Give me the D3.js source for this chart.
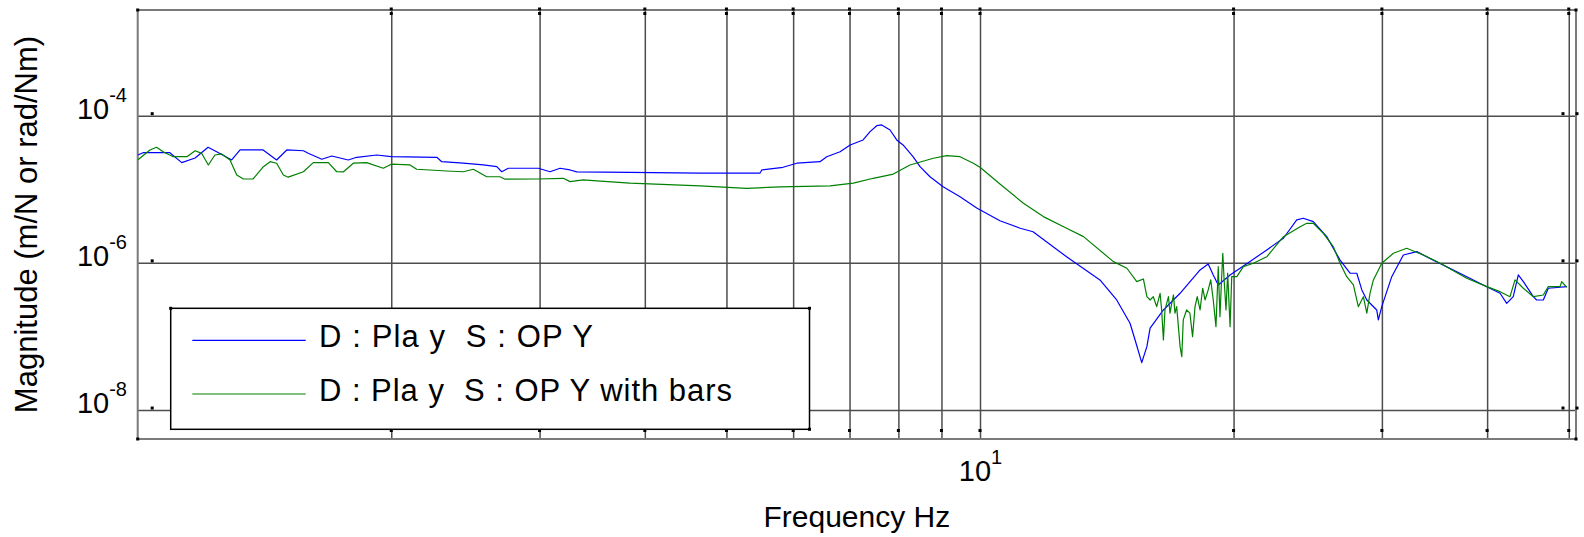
<!DOCTYPE html>
<html>
<head>
<meta charset="utf-8">
<script src="https://cdn.jsdelivr.net/npm/d3@7"></script>
<style>
  html, body { margin: 0; padding: 0; background: #fff; }
  svg { display: block; font-family: "Liberation Sans", Arial, Helvetica, sans-serif; }
  text { white-space: pre; }
</style>
</head>
<body>
<svg id="chart" width="1584" height="537"></svg>
<script>
// Frequency response magnitude of the plate, measured without and with bars.

// Series 1: plate alone (Hz, m/N)
const freqBlue = [1.0, 1.015, 1.092, 1.128, 1.170, 1.212, 1.241, 1.293, 1.323, 1.409, 1.462, 1.503,
  1.573, 1.594, 1.654, 1.700, 1.778, 1.820, 1.922, 2.0, 2.265, 2.296, 2.435, 2.572, 2.669, 2.705,
  2.754, 2.990, 3.087, 3.172, 3.261, 3.321, 3.841, 4.652, 5.481, 5.507, 5.837, 6.060, 6.457, 6.577,
  6.822, 7.011, 7.264, 7.404, 7.541, 7.644, 7.820, 7.964, 8.103, 8.327, 8.488, 8.722, 9.040, 9.469,
  9.91, 10.56, 11.16, 11.56, 12.67, 13.88, 14.53, 15.07, 15.28, 15.56, 15.78, 15.92, 16.51, 17.28,
  18.25, 18.66, 18.92, 19.18, 19.81, 20.92, 21.90, 22.92, 23.77, 24.20, 24.87, 25.80, 26.76, 27.50,
  28.01, 28.40, 28.79, 29.58, 29.71, 29.99, 30.82, 31.81, 33.00, 34.53, 36.47, 39.58, 41.44, 42.20,
  42.96, 43.56, 44.16, 45.38, 45.80, 46.64, 47.28, 49.73];
const magBlue = [2.92e-5, 3.14e-5, 3.14e-5, 2.30e-5, 2.66e-5, 3.72e-5, 3.24e-5, 2.50e-5, 3.42e-5, 3.42e-5, 2.50e-5, 3.42e-5,
  3.34e-5, 3.08e-5, 2.56e-5, 2.83e-5, 2.50e-5, 2.72e-5, 2.92e-5, 2.77e-5, 2.72e-5, 2.37e-5, 2.26e-5, 2.14e-5, 2.03e-5, 1.73e-5,
  1.93e-5, 1.93e-5, 1.73e-5, 1.93e-5, 1.83e-5, 1.72e-5, 1.70e-5, 1.66e-5, 1.66e-5, 1.83e-5, 1.99e-5, 2.26e-5, 2.37e-5, 2.77e-5,
  3.24e-5, 4.00e-5, 4.68e-5, 6.07e-5, 7.31e-5, 7.48e-5, 6.39e-5, 4.68e-5, 4.00e-5, 2.77e-5, 2.03e-5, 1.48e-5, 1.08e-5, 7.93e-6,
  5.57e-6, 3.74e-6, 2.95e-6, 2.65e-6, 1.21e-6, 5.86e-7, 3.13e-7, 1.51e-7, 8.96e-8, 4.41e-8, 7.27e-8, 1.30e-7, 2.29e-7, 3.86e-7,
  8.01e-7, 9.66e-7, 6.85e-7, 5.01e-7, 6.85e-7, 1.04e-6, 1.50e-6, 2.16e-6, 3.83e-6, 4.04e-6, 3.63e-6, 2.27e-6, 1.09e-6, 7.23e-7,
  7.23e-7, 4.29e-7, 3.13e-7, 2.29e-7, 1.68e-7, 2.54e-7, 6.49e-7, 1.28e-6, 1.42e-6, 1.09e-6, 8.01e-7, 5.01e-7, 3.86e-7, 2.82e-7,
  3.47e-7, 6.85e-7, 5.55e-7, 3.47e-7, 3.13e-7, 3.13e-7, 4.52e-7, 4.75e-7];

// Series 2: plate with bars (Hz, m/N)
const freqGreen = [1.0, 1.034, 1.053, 1.072, 1.102, 1.144, 1.170, 1.191, 1.213, 1.235, 1.258, 1.287,
  1.311, 1.335, 1.371, 1.410, 1.436, 1.462, 1.489, 1.509, 1.573, 1.616, 1.684, 1.723, 1.754, 1.803,
  1.870, 1.957, 2.0, 2.105, 2.144, 2.327, 2.435, 2.503, 2.549, 2.596, 2.692, 2.730, 2.977, 3.201,
  3.261, 3.381, 3.507, 3.841, 4.652, 5.285, 5.789, 6.637, 7.073, 7.469, 7.890, 8.258, 8.802, 9.131,
  9.469, 9.818, 10.0, 10.56, 11.26, 11.89, 12.67, 13.27, 14.40, 14.94, 15.35, 15.63, 15.78, 15.92,
  16.06, 16.21, 16.36, 16.43, 16.51, 16.58, 16.74, 16.81, 16.89, 16.97, 17.04, 17.12, 17.28, 17.36,
  17.43, 17.59, 17.75, 17.88, 18.00, 18.11, 18.25, 18.38, 18.50, 18.66, 18.79, 18.92, 19.06, 19.18,
  19.27, 19.36, 19.42, 19.49, 19.59, 19.68, 19.81, 19.90, 20.18, 20.54, 21.11, 21.90, 22.92, 23.99,
  24.43, 24.87, 25.56, 26.27, 26.76, 27.25, 27.75, 28.13, 28.52, 28.79, 29.04, 29.31, 29.99, 30.96,
  32.10, 33.60, 35.17, 37.83, 39.96, 41.44, 42.58, 43.17, 44.16, 45.38, 46.64, 47.28, 48.82, 49.04,
  49.73];
const magGreen = [2.50e-5, 3.42e-5, 3.72e-5, 3.24e-5, 2.77e-5, 2.77e-5, 3.34e-5, 3.08e-5, 2.14e-5, 2.92e-5, 3.02e-5, 2.50e-5,
  1.56e-5, 1.38e-5, 1.38e-5, 2.03e-5, 2.37e-5, 2.26e-5, 1.56e-5, 1.46e-5, 1.73e-5, 2.30e-5, 2.30e-5, 1.73e-5, 1.72e-5, 2.26e-5,
  2.30e-5, 1.93e-5, 2.19e-5, 2.14e-5, 1.87e-5, 1.77e-5, 1.73e-5, 1.87e-5, 1.66e-5, 1.48e-5, 1.48e-5, 1.37e-5, 1.38e-5, 1.41e-5,
  1.27e-5, 1.34e-5, 1.30e-5, 1.21e-5, 1.11e-5, 1.03e-5, 1.08e-5, 1.11e-5, 1.21e-5, 1.41e-5, 1.61e-5, 2.14e-5, 2.64e-5, 2.86e-5,
  2.77e-5, 2.26e-5, 1.99e-5, 1.18e-5, 6.46e-6, 4.25e-6, 2.95e-6, 2.27e-6, 1.04e-6, 8.45e-7, 5.55e-7, 6.04e-7, 3.47e-7, 3.13e-7,
  3.47e-7, 2.54e-7, 3.86e-7, 2.29e-7, 8.96e-8, 2.29e-7, 3.47e-7, 2.07e-7, 2.82e-7, 3.66e-7, 2.07e-7, 2.54e-7, 7.27e-8, 5.31e-8,
  1.68e-7, 2.29e-7, 2.07e-7, 9.94e-8, 2.54e-7, 3.47e-7, 2.29e-7, 4.52e-7, 3.13e-7, 4.29e-7, 5.86e-7, 3.13e-7, 1.36e-7, 8.88e-7,
  1.86e-7, 6.49e-7, 1.35e-6, 5.86e-7, 2.29e-7, 7.23e-7, 1.36e-7, 6.49e-7, 6.49e-7, 8.88e-7, 9.88e-7, 1.21e-6, 2.27e-6, 3.10e-6,
  3.45e-6, 3.45e-6, 2.52e-6, 1.66e-6, 9.88e-7, 6.49e-7, 5.01e-7, 2.54e-7, 3.47e-7, 2.07e-7, 3.86e-7, 5.86e-7, 9.88e-7, 1.35e-6,
  1.58e-6, 1.28e-6, 9.88e-7, 6.18e-7, 4.75e-7, 4.06e-7, 3.47e-7, 5.86e-7, 4.52e-7, 3.47e-7, 3.66e-7, 4.75e-7, 4.75e-7, 5.55e-7,
  4.66e-7];

const seriesNames = ["D : Pla y  S : OP Y", "D : Pla y  S : OP Y with bars"];
const seriesColors = ["#0000ff", "#008000"];

const xGridTicks = [2, 3, 4, 5, 6, 7, 8, 9, 10, 20, 30, 40, 50];
const xLabelTicks = [10];
const yTicks = [1e-8, 1e-6, 1e-4];
const xDomain = [1, 51];
const yDomain = [4.04e-9, 2.73e-3];

const svg = d3.select("#chart");
const L = 137.7, R = 1576, T = 10, B = 439;

const x = d3.scaleLog().domain(xDomain).range([L, R]);
const y = d3.scaleLog().domain(yDomain).range([B, T]);

// Grid lines
const gridX = svg.append("g").attr("transform", `translate(0,${B})`)
  .call(d3.axisBottom(x).tickValues(xGridTicks).tickSize(-(B - T)).tickFormat(""));
gridX.select(".domain").remove();
gridX.selectAll("line").attr("stroke", "#4d4d4d").attr("stroke-width", 1.5);

const gridY = svg.append("g").attr("transform", `translate(${L},0)`)
  .call(d3.axisLeft(y).tickValues(yTicks).tickSize(-(R - L)).tickFormat(""));
gridY.select(".domain").remove();
gridY.selectAll("line").attr("stroke", "#4d4d4d").attr("stroke-width", 1.5);

// Axes box
svg.append("rect")
  .attr("x", L).attr("y", T).attr("width", R - L).attr("height", B - T)
  .attr("fill", "none").attr("stroke", "#7a7a7a").attr("stroke-width", 2);

// Tick marks along the box edges
const tickMarks = svg.append("g").attr("fill", "#000");
xGridTicks.forEach(v => {
  const px = x(v);
  tickMarks.append("rect").attr("x", px - 1.5).attr("y", T - 2.5).attr("width", 3).attr("height", 3);
  tickMarks.append("rect").attr("x", px - 1.5).attr("y", T + 2).attr("width", 3).attr("height", 3);
  tickMarks.append("rect").attr("x", px - 1.5).attr("y", B - 10).attr("width", 3).attr("height", 3);
});
yTicks.forEach(v => {
  const py = y(v);
  tickMarks.append("rect").attr("x", L + 13).attr("y", py - 3.5).attr("width", 3).attr("height", 3);
  tickMarks.append("rect").attr("x", R - 14.5).attr("y", py - 3.5).attr("width", 3).attr("height", 3);
  tickMarks.append("rect").attr("x", R - 0.5).attr("y", py - 3.5).attr("width", 3).attr("height", 3);
});
[[L, T], [L, B], [R, T], [R, B]].forEach(([cx, cy]) => {
  tickMarks.append("rect").attr("x", cx - 1.5).attr("y", cy - 1.5).attr("width", 3).attr("height", 3);
});

// Data curves
const plot = svg.append("g");
svg.append("clipPath").attr("id", "plotClip")
  .append("rect").attr("x", L).attr("y", T).attr("width", R - L).attr("height", B - T);
plot.attr("clip-path", "url(#plotClip)");

const line = d3.line().x(d => x(d[0])).y(d => y(d[1]));
const series = [d3.zip(freqBlue, magBlue), d3.zip(freqGreen, magGreen)];
series.forEach((s, i) => {
  plot.append("path").datum(s)
    .attr("d", line)
    .attr("fill", "none")
    .attr("stroke", seriesColors[i])
    .attr("stroke-width", 1.2)
    .attr("stroke-linejoin", "round");
});

// Tick labels with powers of ten
function powerLabel(sel) {
  sel.each(function(d) {
    const t = d3.select(this).text(null);
    t.append("tspan").text("10");
    t.append("tspan").attr("dy", -17).attr("font-size", 20).text(String(Math.round(Math.log10(d))));
  });
}

const xLab = svg.append("g").attr("transform", `translate(0,${B})`)
  .call(d3.axisBottom(x).tickValues(xLabelTicks).tickSize(0));
xLab.select(".domain").remove();
xLab.attr("font-family", null).attr("font-size", 29);
xLab.selectAll(".tick text")
  .attr("y", 42).attr("dy", null).attr("fill", "#000")
  .attr("text-anchor", "middle")
  .call(powerLabel);

const yLab = svg.append("g").attr("transform", `translate(127,0)`)
  .call(d3.axisLeft(y).tickValues(yTicks).tickSize(0));
yLab.select(".domain").remove();
yLab.attr("font-family", null).attr("font-size", 29);
yLab.selectAll(".tick text")
  .attr("x", 0).attr("y", 2.5).attr("dy", null).attr("fill", "#000")
  .attr("text-anchor", "end")
  .call(powerLabel);

// Axis titles
svg.append("text")
  .attr("x", (L + R) / 2).attr("y", 527)
  .attr("text-anchor", "middle").attr("font-size", 30).attr("fill", "#000")
  .text("Frequency Hz");

svg.append("text")
  .attr("transform", `translate(37,${(T + B) / 2}) rotate(-90)`)
  .attr("text-anchor", "middle").attr("font-size", 31).attr("fill", "#000")
  .text("Magnitude (m/N or rad/Nm)");

// Legend
const legend = svg.append("g");
legend.append("rect")
  .attr("x", 170.7).attr("y", 308.3).attr("width", 638.8).attr("height", 121)
  .attr("fill", "#fff").attr("stroke", "#000").attr("stroke-width", 1.5);
[[170.7, 308.3], [809.5, 308.3], [809.5, 429.3]].forEach(([cx, cy]) => {
  legend.append("rect").attr("x", cx - 1.5).attr("y", cy - 1.5).attr("width", 3).attr("height", 3).attr("fill", "#000");
});
const legendRows = [340.3, 394];
const legendWidths = [274, 413];
seriesNames.forEach((name, i) => {
  legend.append("line")
    .attr("x1", 192.3).attr("x2", 305.7)
    .attr("y1", legendRows[i]).attr("y2", legendRows[i])
    .attr("stroke", seriesColors[i]).attr("stroke-width", 1.2);
  legend.append("text")
    .attr("x", 319).attr("y", legendRows[i] + 7)
    .attr("font-size", 31).attr("fill", "#000")
    .attr("textLength", legendWidths[i]).attr("lengthAdjust", "spacing")
    .text(name);
});
</script>
</body>
</html>
